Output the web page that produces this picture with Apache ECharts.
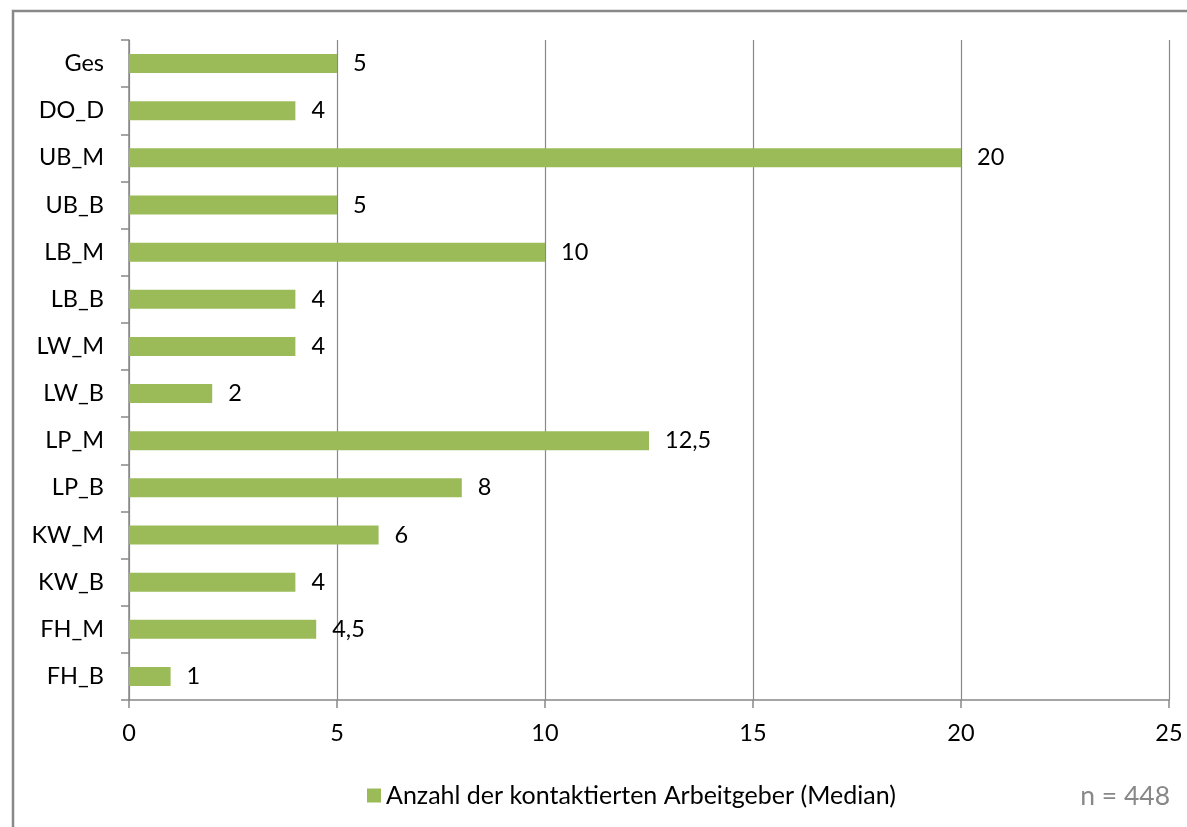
<!DOCTYPE html>
<html>
<head>
<meta charset="utf-8">
<script src="https://cdn.jsdelivr.net/npm/echarts@6/dist/echarts.min.js"></script>
<style>
html,body{margin:0;padding:0;background:#fff;}
#c{width:1187px;height:827px;}
</style>
</head>
<body>
<div id="c"></div>
<script>
const categories = ['Ges','DO_D','UB_M','UB_B','LB_M','LB_B','LW_M','LW_B','LP_M','LP_B','KW_M','KW_B','FH_M','FH_B'];
const values = [5,4,20,5,10,4,4,2,12.5,8,6,4,4.5,1];
const seriesName = 'Anzahl der kontaktierten Arbeitgeber (Median)';
const xTicks = [0,5,10,15,20,25];
const note = 'n = 448';

const FONT = 'Lato';
const FS = 23.5;
const chart = echarts.init(document.getElementById('c'));
chart.setOption({
  backgroundColor: '#fff',
  animation: false,
  textStyle: {fontFamily: FONT},
  grid: {left: 129, right: 18, top: 40, bottom: 127, containLabel: false},
  xAxis: {
    type: 'value', min: xTicks[0], max: xTicks[xTicks.length-1], interval: 5,
    axisLine: {show: true, lineStyle: {color: '#888', width: 1.5}},
    axisTick: {show: true, length: 8, lineStyle: {color: '#888', width: 1.5}},
    axisLabel: {color: '#000', fontSize: FS, fontFamily: FONT, margin: 21},
    splitLine: {show: true, lineStyle: {color: '#888', width: 1.2}}
  },
  yAxis: {
    type: 'category', data: categories, inverse: true,
    axisLine: {show: true, lineStyle: {color: '#888', width: 1.5}},
    axisTick: {show: true, length: 8, lineStyle: {color: '#888', width: 1.5}},
    axisLabel: {color: '#000', fontSize: FS, fontFamily: FONT, margin: 25}
  },
  legend: {
    data: [{name: seriesName, icon: 'rect'}], bottom: 14, left: 362,
    itemWidth: 14, itemHeight: 14, itemGap: 5,
    textStyle: {color: '#000', fontSize: 25, fontFamily: FONT}
  },
  graphic: [
    {type: 'rect', shape: {x: 13, y: 11, width: 1300, height: 1000},
     style: {fill: 'none', stroke: '#888', lineWidth: 2.5}, silent: true},
    {type: 'text', right: 17, bottom: 17,
     style: {text: note, fill: '#888', fontSize: 26.5, fontFamily: FONT}}
  ],
  series: [{
    name: seriesName, type: 'bar', data: values, barWidth: 19,
    itemStyle: {color: '#9BBB59'},
    label: {show: true, position: 'right', distance: 16, color: '#000', fontSize: FS, fontFamily: FONT,
      formatter: p => String(p.value).replace('.', ',')}
  }]
});
</script>
</body>
</html>
